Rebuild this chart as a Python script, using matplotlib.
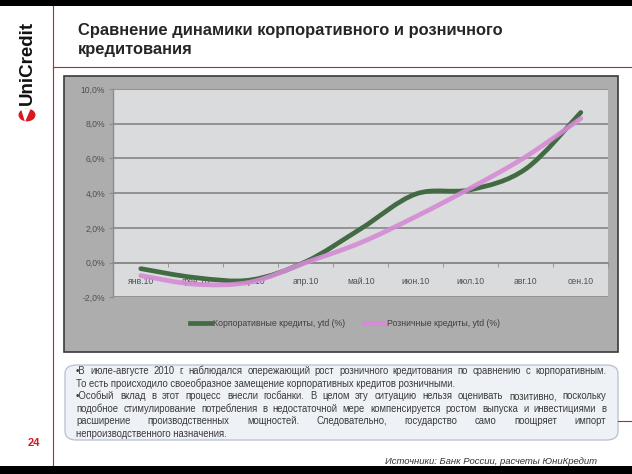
import numpy as np
import matplotlib
matplotlib.use("Agg")
import matplotlib.pyplot as plt
from matplotlib.path import Path
from matplotlib.patches import PathPatch, Rectangle, FancyBboxPatch, Circle, Polygon
from matplotlib.lines import Line2D

plt.rcParams['font.family'] = ['Liberation Sans', 'DejaVu Sans']

W, H = 632, 474

months = ['янв.10', 'фев.10', 'мар.10', 'апр.10', 'май.10', 'июн.10', 'июл.10', 'авг.10', 'сен.10']
corporate = [-0.35, -0.87, -1.0, 0.05, 1.95, 3.95, 4.2, 5.4, 8.65]
retail = [-0.75, -1.25, -1.12, 0.0, 1.15, 2.65, 4.3, 6.1, 8.3]
yticks = [-2, 0, 2, 4, 6, 8, 10]
ytick_labels = ['-2,0%', '0,0%', '2,0%', '4,0%', '6,0%', '8,0%', '10,0%']
series_names = ['Корпоративные кредиты, ytd (%)', 'Розничные кредиты, ytd (%)']

title = 'Сравнение динамики корпоративного и розничного\nкредитования'
comment_lines = [
    ('•В июле-августе 2010 г. наблюдался опережающий рост розничного кредитования по сравнению с корпоративным.', True),
    ('То есть происходило своеобразное замещение корпоративных кредитов розничными.', False),
    ('•Особый вклад в этот процесс внесли госбанки. В целом эту ситуацию нельзя оценивать позитивно, поскольку', True),
    ('подобное стимулирование потребления в недостаточной мере компенсируется ростом выпуска и инвестициями в', True),
    ('расширение производственных мощностей. Следовательно, государство само поощряет импорт', True),
    ('непроизводственного назначения.', False),
]
source = 'Источники: Банк России, расчеты ЮниКредит\nБанк'

GREEN = '#436b43'
PINK = '#d58bd5'
RED = '#d71920'


def fx(px):
    return px / W


def fy(py):
    return 1 - py / H


def smooth_path(xs, ys):
    # Catmull-Rom style smoothing, like Excel's "smoothed line"
    pts = np.column_stack([xs, ys]).astype(float)
    n = len(pts)
    verts = [pts[0]]
    codes = [Path.MOVETO]
    for i in range(n - 1):
        p0 = pts[max(i - 1, 0)]
        p1 = pts[i]
        p2 = pts[i + 1]
        p3 = pts[min(i + 2, n - 1)]
        c1 = p1 + (p2 - p0) / 6
        c2 = p2 - (p3 - p1) / 6
        verts += [c1, c2, p2]
        codes += [Path.CURVE4] * 3
    return Path(verts, codes)


fig = plt.figure(figsize=(W / 100, H / 100), dpi=100)
fig.patch.set_facecolor('white')

# black bars top and bottom
fig.patches.append(Rectangle((0, fy(6)), 1, 6 / H, transform=fig.transFigure,
                             facecolor='black', edgecolor='none', zorder=10))
fig.patches.append(Rectangle((0, 0), 1, 8 / H, transform=fig.transFigure,
                             facecolor='black', edgecolor='none', zorder=10))

# red rules
fig.lines.append(Line2D([fx(53), fx(53)], [fy(6), fy(466)], transform=fig.transFigure,
                        color=RED, lw=0.8))
fig.lines.append(Line2D([fx(53), 1], [fy(67), fy(67)], transform=fig.transFigure,
                        color=RED, lw=0.8))
fig.lines.append(Line2D([fx(618), 1], [fy(420.5), fy(420.5)], transform=fig.transFigure,
                        color=RED, lw=0.8))

# logo
fig.text(fx(27.5), fy(63), 'UniCredit', rotation=90, ha='center', va='center',
         fontsize=13.5, fontweight='bold', color='#111111')
fig.patches.append(Circle((fx(27), fy(115)), 8.5 / W, transform=fig.transFigure,
                          facecolor=RED, edgecolor='none'))
fig.patches.append(Polygon([(fx(21), fy(109)), (fx(31), fy(108)), (fx(25), fy(122))],
                           closed=True, transform=fig.transFigure,
                           facecolor='white', edgecolor='none', zorder=3))

# title
fig.text(fx(78), fy(40), title, ha='left', va='center', fontsize=11.9,
         fontweight='bold', color='#262626', linespacing=1.4)

# page number
fig.text(fx(34), fy(443), '24', ha='center', va='center', fontsize=8,
         fontweight='bold', color=RED)

# chart frame
fig.patches.append(Rectangle((fx(64), fy(352)), (618 - 64) / W, (352 - 76) / H,
                             transform=fig.transFigure, facecolor='#adadad',
                             edgecolor='#3a3a3a', lw=1.2, zorder=0.5))

ax = fig.add_axes([fx(113.3), fy(297.3), (608.3 - 113.3) / W, (297.3 - 89) / H])
ax.set_zorder(1)
ax.set_facecolor('#dadbdd')

x = np.arange(len(months))
ax.add_patch(PathPatch(smooth_path(x, corporate), fill=False, edgecolor=GREEN,
                       lw=3.4, capstyle='round', zorder=3))
ax.add_patch(PathPatch(smooth_path(x, retail), fill=False, edgecolor=PINK,
                       lw=3.4, capstyle='round', alpha=0.9, zorder=3))

ax.set_xlim(-0.5, len(months) - 0.5)
ax.set_ylim(-2, 10)
ax.set_yticks(yticks)
ax.set_yticklabels(ytick_labels)
ax.set_xticks(x)
ax.set_xticklabels(months)
ax.set_xticks(np.arange(len(months) + 1) - 0.5, minor=True)
ax.yaxis.grid(True, color='#8c8c8c', lw=1.3)
ax.set_axisbelow(True)
for s in ['top', 'right']:
    ax.spines[s].set_visible(False)
ax.spines['bottom'].set_position(('data', 0))
ax.spines['bottom'].set_color('#8c8c8c')
ax.spines['bottom'].set_linewidth(1.3)
ax.spines['left'].set_color('#8c8c8c')
ax.spines['left'].set_linewidth(1.0)
ax.tick_params(axis='x', which='major', length=0, pad=10.5, labelsize=6.2, labelcolor='#505050')
ax.tick_params(axis='x', which='minor', length=3, color='#8c8c8c', direction='out')
ax.tick_params(axis='y', length=3, color='#8c8c8c', pad=3, labelsize=6.2, labelcolor='#505050')

handles = [Line2D([], [], color=GREEN, lw=3.4), Line2D([], [], color=PINK, lw=3.4)]
fig.legend(handles, series_names, loc='center', bbox_to_anchor=(fx(345), fy(324)),
           ncol=2, frameon=False, fontsize=6.3, handlelength=2.4, handletextpad=0.2,
           columnspacing=2.2, labelcolor='#404040')

# comment box
fig.patches.append(FancyBboxPatch((fx(65), fy(440)), (618 - 65) / W, (440 - 365) / H,
                                  boxstyle='round,pad=0,rounding_size=0.018',
                                  transform=fig.transFigure, facecolor='#eef1f6',
                                  edgecolor='#b4c0d2', lw=0.9, zorder=1))

renderer = fig.canvas.get_renderer()
x0, x1 = 76, 606
fs = 6.85
for i, (line, just) in enumerate(comment_lines):
    ypos = fy(374.3 + i * 12.45)
    if not just:
        fig.text(fx(x0), ypos, line, fontsize=fs, color='#3a3a3a', va='baseline', ha='left', zorder=2)
        continue
    words = line.split(' ')
    objs = [fig.text(0, ypos, w, fontsize=fs, color='#3a3a3a', va='baseline', ha='left', zorder=2)
            for w in words]
    widths = [o.get_window_extent(renderer).width for o in objs]
    gap = (x1 - x0 - sum(widths)) / (len(words) - 1)
    cur = x0
    for o, wd in zip(objs, widths):
        o.set_x(fx(cur))
        cur += wd + gap

# source note (second line runs under the bottom bar, as in the slide)
fig.text(fx(385), fy(456.5), source, ha='left', va='top', fontsize=6.8, style='italic',
         color='#333333', linespacing=1.35, zorder=2)

fig.savefig('out.png', dpi=100)
